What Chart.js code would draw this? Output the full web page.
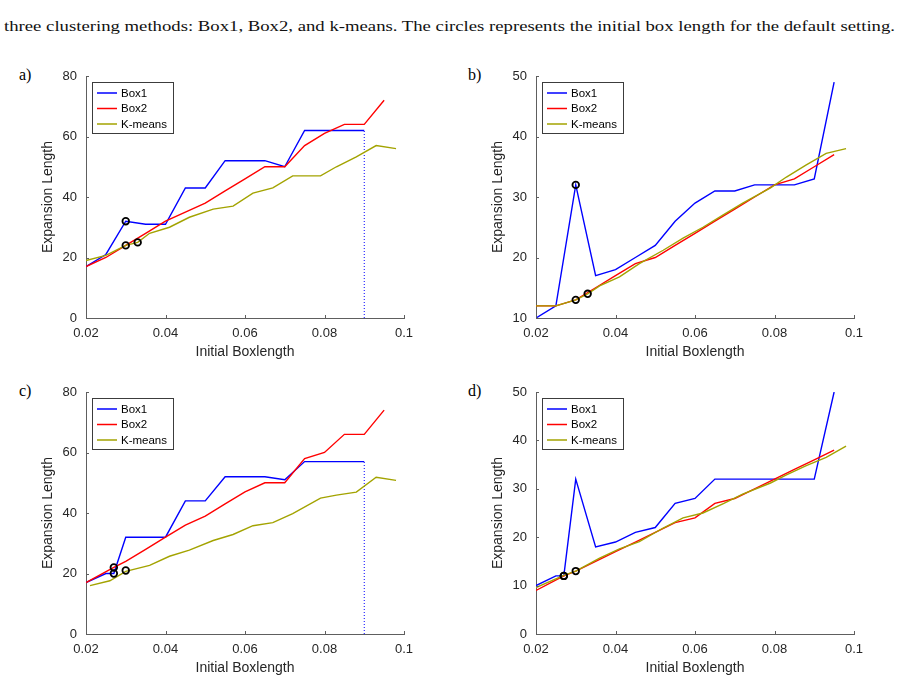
<!DOCTYPE html>
<html>
<head>
<meta charset="utf-8">
<script src="https://cdn.jsdelivr.net/npm/chart.js@4.4.1/dist/chart.umd.min.js"></script>
<style>
  body { margin: 0; background: #fff; width: 902px; height: 683px; position: relative; overflow: hidden; }
  #cap { position: absolute; left: 4px; top: 19px; font-family: "Liberation Serif", "DejaVu Serif", serif; font-size: 15px; line-height: 15px; white-space: nowrap; transform-origin: 0 0; color: #111; }
  .lbl { position: absolute; font-family: "Liberation Serif", "DejaVu Serif", serif; font-size: 16px; line-height: 16px; color: #000; }
  .panel { position: absolute; }
</style>
</head>
<body>
<div id="cap">three clustering methods: Box1, Box2, and k-means. The circles represents the initial box length for the default setting.</div>
<div class="lbl" style="left:19px;top:67px">a)</div>
<div class="lbl" style="left:468px;top:67px">b)</div>
<div class="lbl" style="left:19px;top:383px">c)</div>
<div class="lbl" style="left:468px;top:383px">d)</div>
<div class="panel" style="left:36px;top:56px"><canvas id="pa" width="388" height="307"></canvas></div>
<div class="panel" style="left:486px;top:56px"><canvas id="pb" width="388" height="307"></canvas></div>
<div class="panel" style="left:36px;top:372px"><canvas id="pc" width="388" height="307"></canvas></div>
<div class="panel" style="left:486px;top:372px"><canvas id="pd" width="388" height="307"></canvas></div>
<script>
// tick labels
const xTicks = [0.02, 0.04, 0.06, 0.08, 0.1];
const yTicksAC = [0, 20, 40, 60, 80];
const yTicksB = [10, 20, 30, 40, 50];
const yTicksD = [0, 10, 20, 30, 40, 50];
const seriesNames = ['Box1', 'Box2', 'K-means'];

// a)
const aBox1X = [0.02, 0.025, 0.03, 0.035, 0.04, 0.045, 0.05, 0.055, 0.06, 0.065, 0.07, 0.075, 0.08, 0.085, 0.09];
const aBox1Y = [17, 21, 32, 31, 31, 43, 43, 52, 52, 52, 50, 62, 62, 62, 62];
const aBox2X = [0.02, 0.025, 0.03, 0.035, 0.04, 0.045, 0.05, 0.055, 0.06, 0.065, 0.07, 0.075, 0.08, 0.085, 0.09, 0.095];
const aBox2Y = [17, 20, 24, 28, 32, 35, 38, 42, 46, 50, 50, 57, 61, 64, 64, 72];
const aKmX = [0.02, 0.025, 0.03, 0.033, 0.036, 0.041, 0.046, 0.052, 0.057, 0.062, 0.067, 0.072, 0.079, 0.083, 0.088, 0.093, 0.098];
const aKmY = [19, 20.7, 24, 25, 28, 30, 33.3, 36, 37, 41.3, 43, 47, 47, 50, 53.3, 57, 56];
const aCircX = [0.03, 0.03, 0.033];
const aCircY = [32, 24, 25];
const aCutoff = [0.09, 62];

// b)
const bBox1X = [0.02, 0.025, 0.03, 0.035, 0.04, 0.045, 0.05, 0.055, 0.06, 0.065, 0.07, 0.075, 0.08, 0.085, 0.09, 0.095];
const bBox1Y = [10, 12, 32, 17, 18, 20, 22, 26, 29, 31, 31, 32, 32, 32, 33, 49];
const bBox2X = [0.02, 0.025, 0.03, 0.035, 0.04, 0.045, 0.05, 0.055, 0.06, 0.065, 0.07, 0.075, 0.08, 0.085, 0.09, 0.095];
const bBox2Y = [12, 12, 13, 15, 17, 19, 20, 22, 24, 26, 28, 30, 32, 33, 35, 37];
const bKmX = [0.02, 0.025, 0.03, 0.033, 0.036, 0.041, 0.046, 0.052, 0.057, 0.062, 0.067, 0.072, 0.079, 0.083, 0.088, 0.093, 0.098];
const bKmY = [12, 12, 13, 14, 15.3, 16.8, 19, 21.2, 23.2, 25, 27, 29, 31.5, 33.3, 35.3, 37.2, 38];
const bCircX = [0.03, 0.03, 0.033];
const bCircY = [32, 13, 14];

// c)
const cBox1X = [0.02, 0.025, 0.027, 0.03, 0.035, 0.04, 0.045, 0.05, 0.055, 0.06, 0.065, 0.07, 0.075, 0.08, 0.085, 0.09];
const cBox1Y = [17, 20, 20, 32, 32, 32, 44, 44, 52, 52, 52, 51, 57, 57, 57, 57];
const cBox2X = [0.02, 0.027, 0.03, 0.035, 0.04, 0.045, 0.05, 0.055, 0.06, 0.065, 0.07, 0.075, 0.08, 0.085, 0.09, 0.095];
const cBox2Y = [17, 22, 24, 28, 32, 36, 39, 43, 47, 50, 50, 58, 60, 66, 66, 74];
const cKmX = [0.021, 0.026, 0.03, 0.036, 0.041, 0.046, 0.052, 0.057, 0.062, 0.067, 0.072, 0.079, 0.083, 0.088, 0.093, 0.098];
const cKmY = [16, 17.6, 20.7, 22.7, 25.7, 27.7, 30.9, 32.9, 35.8, 36.8, 39.8, 44.9, 45.9, 46.9, 51.8, 50.8];
const cCircX = [0.027, 0.027, 0.03];
const cCircY = [22, 20, 21];
const cCutoff = [0.09, 57];

// d)
const dBox1X = [0.02, 0.025, 0.027, 0.03, 0.035, 0.04, 0.045, 0.05, 0.055, 0.06, 0.065, 0.07, 0.075, 0.08, 0.085, 0.09, 0.095];
const dBox1Y = [10, 12, 12, 32, 18, 19, 21, 22, 27, 28, 32, 32, 32, 32, 32, 32, 50];
const dBox2X = [0.02, 0.027, 0.03, 0.035, 0.04, 0.045, 0.05, 0.055, 0.06, 0.065, 0.07, 0.075, 0.08, 0.085, 0.09, 0.095];
const dBox2Y = [9, 12, 13, 15, 17, 19, 21, 23, 24, 27, 28, 30, 32, 34, 36, 38];
const dKmX = [0.02, 0.027, 0.03, 0.036, 0.041, 0.046, 0.052, 0.057, 0.062, 0.067, 0.072, 0.079, 0.083, 0.088, 0.093, 0.098];
const dKmY = [9.6, 12.1, 13, 15.7, 17.6, 19.1, 21.9, 24, 25, 26.9, 28.9, 31.2, 32.9, 34.8, 36.5, 38.8];
const dCircX = [0.027, 0.027, 0.03];
const dCircY = [12, 12, 13];

const COLORS = ['#0000ff', '#ff0000', '#a3a300'];
const AXIS = '#5e5e5e';
const TXT = '#262626';
const SANS = '"Liberation Sans", Arial, sans-serif';

const pts = (xs, ys) => xs.map((x, i) => ({ x: x, y: ys[i] }));

// MATLAB style ticks pointing into the plot
const innerTicks = {
    id: 'innerTicks',
    afterDatasetsDraw(chart) {
        const ctx = chart.ctx, a = chart.chartArea;
        const sx = chart.scales.x, sy = chart.scales.y;
        ctx.save();
        ctx.strokeStyle = AXIS;
        ctx.lineWidth = 1;
        ctx.beginPath();
        sx.ticks.forEach(t => {
            const px = Math.round(sx.getPixelForValue(t.value)) + 0.5;
            ctx.moveTo(px, a.bottom); ctx.lineTo(px, a.bottom - 3);
        });
        sy.ticks.forEach(t => {
            const py = Math.round(sy.getPixelForValue(t.value)) + 0.5;
            ctx.moveTo(a.left, py); ctx.lineTo(a.left + 3, py);
        });
        ctx.stroke();
        ctx.restore();
    }
};

// boxed legend in the upper left corner of the axes
const boxLegend = {
    id: 'boxLegend',
    afterDraw(chart) {
        const ctx = chart.ctx, a = chart.chartArea;
        const items = chart.data.datasets.filter(d => d.inLegend);
        const x0 = Math.round(a.left + 6) + 0.5, y0 = Math.round(a.top + 6) + 0.5;
        const w = 81, rowH = 15.5, h = items.length * rowH + 4.5;
        ctx.save();
        ctx.fillStyle = '#fff';
        ctx.fillRect(x0, y0, w, h);
        ctx.strokeStyle = '#3c3c3c';
        ctx.lineWidth = 1;
        ctx.strokeRect(x0, y0, w, h);
        ctx.font = '11.5px ' + SANS;
        ctx.textBaseline = 'middle';
        items.forEach((d, i) => {
            const cy = y0 + 10.5 + i * rowH;
            ctx.strokeStyle = d.borderColor;
            ctx.lineWidth = 1.5;
            ctx.beginPath(); ctx.moveTo(x0 + 4.5, cy); ctx.lineTo(x0 + 24.5, cy); ctx.stroke();
            ctx.fillStyle = '#000';
            ctx.fillText(d.label, x0 + 28.5, cy + 0.5);
        });
        ctx.restore();
    }
};

function lineSet(label, data, color, order) {
    return { label: label, data: data, borderColor: color, borderWidth: 1.4, pointRadius: 0, tension: 0, inLegend: true, order: order };
}

function makePanel(id, p) {
    const datasets = [
        lineSet(seriesNames[0], pts(p.box1[0], p.box1[1]), COLORS[0], 4),
        lineSet(seriesNames[1], pts(p.box2[0], p.box2[1]), COLORS[1], 3),
        lineSet(seriesNames[2], pts(p.km[0], p.km[1]), COLORS[2], 2),
        {
            label: 'default', data: pts(p.circ[0], p.circ[1]), showLine: false,
            pointRadius: 3.3, pointBorderWidth: 1.8, pointBorderColor: '#000',
            pointBackgroundColor: 'rgba(0,0,0,0)', order: 0
        }
    ];
    if (p.cutoff) {
        datasets.push({
            label: 'cutoff', data: [{ x: p.cutoff[0], y: p.yMin }, { x: p.cutoff[0], y: p.cutoff[1] }],
            borderColor: COLORS[0], borderWidth: 1, borderDash: [1, 2], pointRadius: 0, order: 5
        });
    }
    return new Chart(document.getElementById(id), {
        type: 'line',
        data: { datasets: datasets },
        options: {
            responsive: false,
            animation: false,
            devicePixelRatio: 1,
            layout: { padding: { top: 20, right: 20, left: 0, bottom: 0 } },
            plugins: { legend: { display: false }, tooltip: { enabled: false } },
            scales: {
                x: {
                    type: 'linear', min: 0.02, max: 0.1,
                    afterBuildTicks: s => { s.ticks = xTicks.map(v => ({ value: v })); },
                    afterFit: s => { s.height = 45; },
                    ticks: { callback: v => String(+v.toFixed(3)), color: TXT, font: { family: SANS, size: 13 }, padding: 8, maxRotation: 0, autoSkip: false },
                    grid: { drawOnChartArea: false, drawTicks: false },
                    border: { color: AXIS, width: 1 },
                    title: { display: true, text: 'Initial Boxlength', color: TXT, font: { family: SANS, size: 14 }, padding: { top: 4, bottom: 2 } }
                },
                y: {
                    type: 'linear', min: p.yMin, max: p.yMax,
                    afterBuildTicks: s => { s.ticks = p.yTicks.map(v => ({ value: v })); },
                    afterFit: s => { s.width = 50; },
                    ticks: { color: TXT, font: { family: SANS, size: 13 }, padding: 9 },
                    grid: { drawOnChartArea: false, drawTicks: false },
                    border: { color: AXIS, width: 1 },
                    title: { display: true, text: 'Expansion Length', color: TXT, font: { family: SANS, size: 14 } }
                }
            }
        },
        plugins: [innerTicks, boxLegend]
    });
}

makePanel('pa', { yMin: 0, yMax: 80, yTicks: yTicksAC, box1: [aBox1X, aBox1Y], box2: [aBox2X, aBox2Y], km: [aKmX, aKmY], circ: [aCircX, aCircY], cutoff: aCutoff });
makePanel('pb', { yMin: 10, yMax: 50, yTicks: yTicksB, box1: [bBox1X, bBox1Y], box2: [bBox2X, bBox2Y], km: [bKmX, bKmY], circ: [bCircX, bCircY] });
makePanel('pc', { yMin: 0, yMax: 80, yTicks: yTicksAC, box1: [cBox1X, cBox1Y], box2: [cBox2X, cBox2Y], km: [cKmX, cKmY], circ: [cCircX, cCircY], cutoff: cCutoff });
makePanel('pd', { yMin: 0, yMax: 50, yTicks: yTicksD, box1: [dBox1X, dBox1Y], box2: [dBox2X, dBox2Y], km: [dKmX, dKmY], circ: [dCircX, dCircY] });

// stretch the caption to the width of the original line
const cap = document.getElementById('cap');
const capW = cap.getBoundingClientRect().width;
cap.style.transform = 'scaleX(' + (891 / capW) + ')';
</script>
</body>
</html>
